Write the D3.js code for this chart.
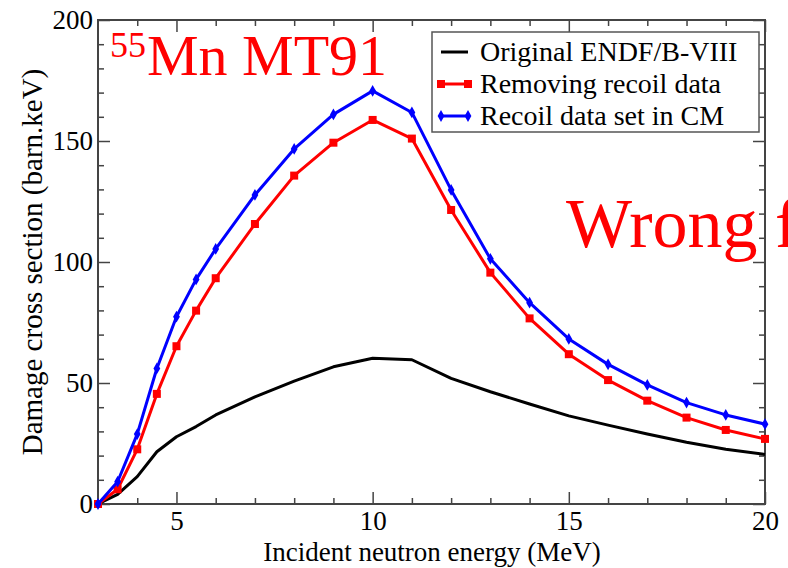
<!DOCTYPE html>
<html>
<head>
<meta charset="utf-8">
<script src="https://cdn.jsdelivr.net/npm/d3@7"></script>
<style>
  body { margin: 0; background: #fff; overflow: hidden; }
  svg { display: block; font-family: "Liberation Serif", "Times New Roman", serif; }
</style>
</head>
<body>
<svg id="chart"></svg>
<script>
const WIDTH = 788;
const HEIGHT = 568;

// incident energies (MeV) for the marked series
const energies = [3, 3.5, 4, 4.5, 5, 5.5, 6, 7, 8, 9, 10, 11, 12, 13, 14, 15, 16, 17, 18, 19, 20];
const removingRecoil = [0, 6.1, 22.6, 45.5, 65.2, 79.9, 93.3, 115.7, 135.7, 149.3, 158.7, 151, 121.5, 95.6, 76.7, 61.9, 51.2, 42.7, 35.7, 30.6, 26.9];
const recoilCM = [0, 9.2, 28.9, 56, 77.4, 92.8, 105.4, 127.7, 146.7, 161, 170.7, 161.8, 129.8, 101.3, 83.2, 68.2, 57.7, 49.2, 41.9, 36.8, 33];

// original ENDF/B-VIII curve
const endfX = [3, 3.5, 4, 4.5, 5, 5.5, 6, 7, 8, 9, 10, 10.5, 11, 12, 13, 14, 15, 16, 17, 18, 19, 20];
const endfY = [0, 4, 11.3, 21.6, 27.8, 32, 36.8, 44.3, 50.8, 56.7, 60.2, 59.9, 59.6, 51.9, 46.4, 41.3, 36.4, 32.6, 28.9, 25.5, 22.6, 20.5];

const xMajor = [5, 10, 15, 20];
const xMinor = [4, 6, 7, 8, 9, 11, 12, 13, 14, 16, 17, 18, 19];
const yMajor = [0, 50, 100, 150, 200];
const yMinor = [10, 20, 30, 40, 60, 70, 80, 90, 110, 120, 130, 140, 160, 170, 180, 190];

const legendLabels = ["Original ENDF/B-VIII", "Removing recoil data", "Recoil data set in CM"];

const margin = { left: 98, right: 23, top: 20, bottom: 64 };
const AXIS_COLOR = "#444";

const svg = d3.select("#chart").attr("width", WIDTH).attr("height", HEIGHT);

const x = d3.scaleLinear().domain([3, 20]).range([margin.left, WIDTH - margin.right]);
const y = d3.scaleLinear().domain([0, 200]).range([HEIGHT - margin.bottom, margin.top]);

function styleAxis(g) {
  g.select(".domain").remove();
  g.selectAll(".tick line").attr("stroke", AXIS_COLOR).attr("stroke-width", 1.5);
  g.selectAll(".tick text").attr("fill", "#000").attr("font-size", 27)
    .attr("font-family", "Liberation Serif, serif");
}

const x0 = margin.left, x1 = WIDTH - margin.right;
const y0 = HEIGHT - margin.bottom, y1 = margin.top;

// bottom axis
svg.append("g").attr("transform", `translate(0,${y0})`)
  .call(d3.axisBottom(x).tickValues(xMajor).tickSize(-12).tickPadding(7)).call(styleAxis);
svg.append("g").attr("transform", `translate(0,${y0})`)
  .call(d3.axisBottom(x).tickValues(xMinor).tickSize(-6).tickFormat("")).call(styleAxis);
// top axis
svg.append("g").attr("transform", `translate(0,${y1})`)
  .call(d3.axisTop(x).tickValues(xMajor).tickSize(-12).tickFormat("")).call(styleAxis);
svg.append("g").attr("transform", `translate(0,${y1})`)
  .call(d3.axisTop(x).tickValues(xMinor).tickSize(-6).tickFormat("")).call(styleAxis);
// left axis
svg.append("g").attr("transform", `translate(${x0},0)`)
  .call(d3.axisLeft(y).tickValues(yMajor).tickSize(-12).tickPadding(5)).call(styleAxis);
svg.append("g").attr("transform", `translate(${x0},0)`)
  .call(d3.axisLeft(y).tickValues(yMinor).tickSize(-6).tickFormat("")).call(styleAxis);
// right axis
svg.append("g").attr("transform", `translate(${x1},0)`)
  .call(d3.axisRight(y).tickValues(yMajor).tickSize(-12).tickFormat("")).call(styleAxis);
svg.append("g").attr("transform", `translate(${x1},0)`)
  .call(d3.axisRight(y).tickValues(yMinor).tickSize(-6).tickFormat("")).call(styleAxis);

// frame
svg.append("rect")
  .attr("x", x0).attr("y", y1)
  .attr("width", x1 - x0).attr("height", y0 - y1)
  .attr("fill", "none").attr("stroke", AXIS_COLOR).attr("stroke-width", 2);

// axis titles
svg.append("text")
  .attr("x", 432).attr("y", 561)
  .attr("text-anchor", "middle").attr("font-size", 27)
  .text("Incident neutron energy (MeV)");

svg.append("text")
  .attr("transform", `translate(42,${(y0 + y1) / 2}) rotate(-90)`)
  .attr("text-anchor", "middle").attr("font-size", 29)
  .text("Damage cross section (barn.keV)");

// curves
const line = d3.line().x(d => x(d[0])).y(d => y(d[1]));

const endfPts = endfX.map((v, i) => [v, endfY[i]]);
const redPts = energies.map((v, i) => [v, removingRecoil[i]]);
const bluePts = energies.map((v, i) => [v, recoilCM[i]]);

svg.append("path").datum(endfPts).attr("d", line)
  .attr("fill", "none").attr("stroke", "#000").attr("stroke-width", 3)
  .attr("stroke-linejoin", "round");

svg.append("path").datum(redPts).attr("d", line)
  .attr("fill", "none").attr("stroke", "#ff0000").attr("stroke-width", 3)
  .attr("stroke-linejoin", "round");
svg.append("g").selectAll("rect").data(redPts).enter()
  .append("rect")
  .attr("x", d => x(d[0]) - 4).attr("y", d => y(d[1]) - 4)
  .attr("width", 8).attr("height", 8).attr("fill", "#ff0000");

svg.append("path").datum(bluePts).attr("d", line)
  .attr("fill", "none").attr("stroke", "#0000ff").attr("stroke-width", 3)
  .attr("stroke-linejoin", "round");
const diamond = d3.symbol().type(d3.symbolDiamond).size(40);
svg.append("g").selectAll("path").data(bluePts).enter()
  .append("path")
  .attr("d", diamond)
  .attr("transform", d => `translate(${x(d[0])},${y(d[1])})`)
  .attr("fill", "#0000ff");

// legend
const legend = svg.append("g");
legend.append("rect")
  .attr("x", 432).attr("y", 32).attr("width", 327).attr("height", 100)
  .attr("fill", "#fff").attr("stroke", "#555").attr("stroke-width", 1.5);

const legendColors = ["#000", "#ff0000", "#0000ff"];
legendLabels.forEach((lbl, i) => {
  const cy = 52 + i * 32;
  legend.append("line")
    .attr("x1", 441).attr("x2", 468).attr("y1", cy).attr("y2", cy)
    .attr("stroke", legendColors[i]).attr("stroke-width", 3);
  if (i === 1) {
    [441, 468].forEach(px => legend.append("rect")
      .attr("x", px - 4).attr("y", cy - 4).attr("width", 8).attr("height", 8)
      .attr("fill", "#ff0000"));
  }
  if (i === 2) {
    [441, 468].forEach(px => legend.append("path")
      .attr("d", diamond).attr("transform", `translate(${px},${cy})`)
      .attr("fill", "#0000ff"));
  }
  legend.append("text")
    .attr("x", 480).attr("y", cy + 9)
    .attr("font-size", 28).text(lbl);
});

// annotations
const title = svg.append("text").attr("x", 110).attr("y", 75).attr("fill", "#ff0000");
title.append("tspan").attr("font-size", 36).attr("dy", -18).text("55");
title.append("tspan").attr("font-size", 58).attr("x", 147).attr("dy", 18).text("Mn MT91");

svg.append("text")
  .attr("x", 566).attr("y", 247)
  .attr("font-size", 70).attr("fill", "#ff0000")
  .text("Wrong f");
</script>
</body>
</html>
